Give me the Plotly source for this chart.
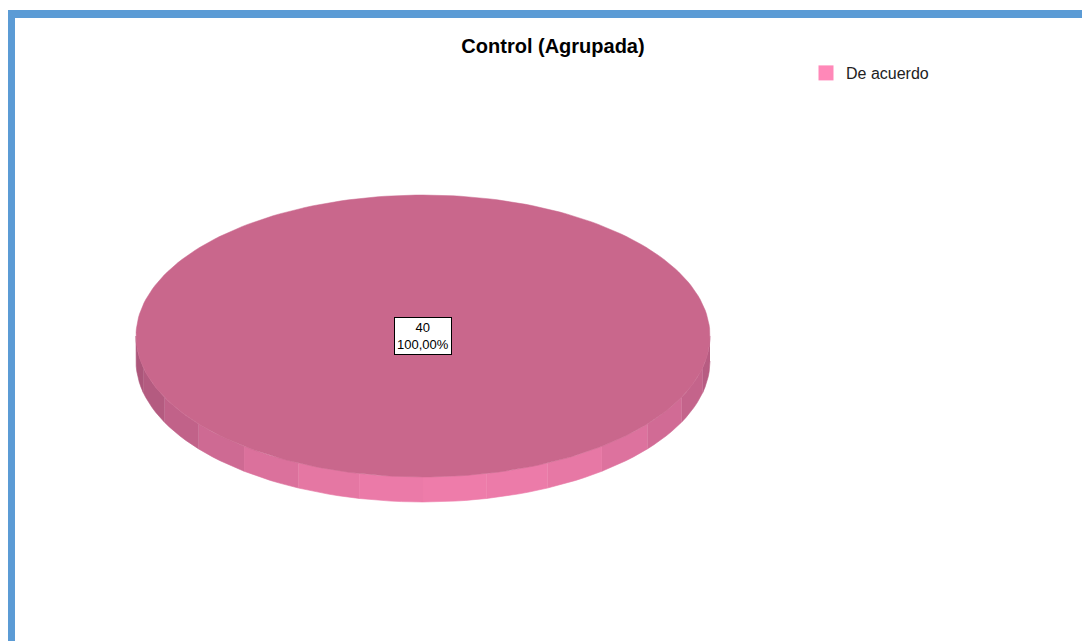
import math
import plotly.graph_objects as go

# ---- data ----
categories = ["De acuerdo"]
counts = [40]
top_colors = ["#C9678C"]
legend_colors = ["#FF88B8"]
title_text = "Control (Agrupada)"

# ---- layout constants (pixels, figure 1090x641) ----
W, H = 1090, 641
OFF = 8  # page body margin offset
CX, CY, RX, RY, DEPTH = 423 - OFF, 336 - OFF, 287, 141, 25
START_DEG = -90  # start at top, clockwise (screen y down)

total = sum(counts)
fig = go.Figure()

def ell(theta):
    return CX + RX * math.cos(theta), CY + RY * math.sin(theta)

def lerp(a, b, t):
    return tuple(int(round(a[i] + (b[i] - a[i]) * t)) for i in range(3))

dark = (172, 86, 122)
light = (238, 124, 170)

# side wall (front half) built from slice angles
cum = 0
for ci, v in enumerate(counts):
    a0 = math.radians(START_DEG + 360 * cum / total)
    a1 = math.radians(START_DEG + 360 * (cum + v) / total)
    cum += v
    nseg = 14
    ranges = []
    for off in (0.0, 2 * math.pi):
        l, h = max(a0, off), min(a1, off + math.pi)
        if h > l:
            ranges.append((l, h))
    for (l, h) in ranges:
        for s in range(nseg):
            t0 = l + (h - l) * s / nseg
            t1 = l + (h - l) * (s + 1) / nseg
            mid = (t0 + t1) / 2
            k = max(0.0, math.cos(mid - math.radians(82)))
            col = lerp(dark, light, k ** 1.3)
            xs, ys = [], []
            sub = 6
            for j in range(sub + 1):
                tt = t0 + (t1 - t0) * j / sub
                x, y = ell(tt)
                xs.append(x); ys.append(y)
            for j in range(sub, -1, -1):
                tt = t0 + (t1 - t0) * j / sub
                x, y = ell(tt)
                xs.append(x); ys.append(y + DEPTH)
            fig.add_trace(go.Scatter(x=xs, y=ys, fill="toself", mode="lines",
                                     line=dict(width=0.6, color="rgb(%d,%d,%d)" % col),
                                     fillcolor="rgb(%d,%d,%d)" % col,
                                     showlegend=False, hoverinfo="skip"))

# top faces
cum = 0
for ci, v in enumerate(counts):
    a0 = math.radians(START_DEG + 360 * cum / total)
    a1 = math.radians(START_DEG + 360 * (cum + v) / total)
    cum += v
    n = 240
    xs, ys = [], []
    if v < total:
        xs.append(CX); ys.append(CY)
    for j in range(n + 1):
        x, y = ell(a0 + (a1 - a0) * j / n)
        xs.append(x); ys.append(y)
    fig.add_trace(go.Scatter(x=xs, y=ys, fill="toself", mode="lines",
                             line=dict(width=0.5, color=top_colors[ci]),
                             fillcolor=top_colors[ci],
                             showlegend=False, hoverinfo="skip"))
    # label
    mid = (a0 + a1) / 2
    if v < total:
        lx, ly = CX + 0.6 * RX * math.cos(mid), CY + 0.6 * RY * math.sin(mid)
    else:
        lx, ly = CX, CY
    pct = ("%.2f" % (100.0 * v / total)).replace(".", ",")
    fig.add_annotation(x=lx, y=ly, xref="x", yref="y", text="%d<br>%s%%" % (v, pct),
                       showarrow=False, bgcolor="white", bordercolor="black",
                       borderwidth=1, borderpad=2,
                       font=dict(family="Liberation Sans, Arial", size=13, color="black"))

# legend entries
for ci, name in enumerate(categories):
    fig.add_trace(go.Scatter(x=[None], y=[None], mode="markers", name=name,
                             marker=dict(symbol="square", size=15, color=legend_colors[ci])))

fig.update_layout(
    width=W, height=H,
    margin=dict(l=0, r=0, t=0, b=0),
    paper_bgcolor="white", plot_bgcolor="white",
    xaxis=dict(range=[0, W], visible=False, fixedrange=True),
    yaxis=dict(range=[H, 0], visible=False, fixedrange=True),
    title=dict(text="<b>%s</b>" % title_text, x=(553 - OFF) / W, xanchor="center",
               y=1 - (46 - OFF) / H, yanchor="middle",
               font=dict(family="Liberation Sans, Arial", size=20, color="black")),
    legend=dict(x=(806 - OFF) / W, y=1 - (56 - OFF) / H, xanchor="left", yanchor="top",
                font=dict(family="Liberation Sans, Arial", size=16, color="#222222"),
                bgcolor="rgba(0,0,0,0)", itemwidth=30),
    showlegend=True,
    hovermode=False,
    shapes=[dict(type="rect", xref="paper", yref="paper",
                 x0=(11 - OFF) / W, x1=1.05, y0=-0.05, y1=1 - (14 - OFF) / H,
                 line=dict(color="#5B9BD5", width=8), layer="above")],
)

fig.write_html("out.html")
